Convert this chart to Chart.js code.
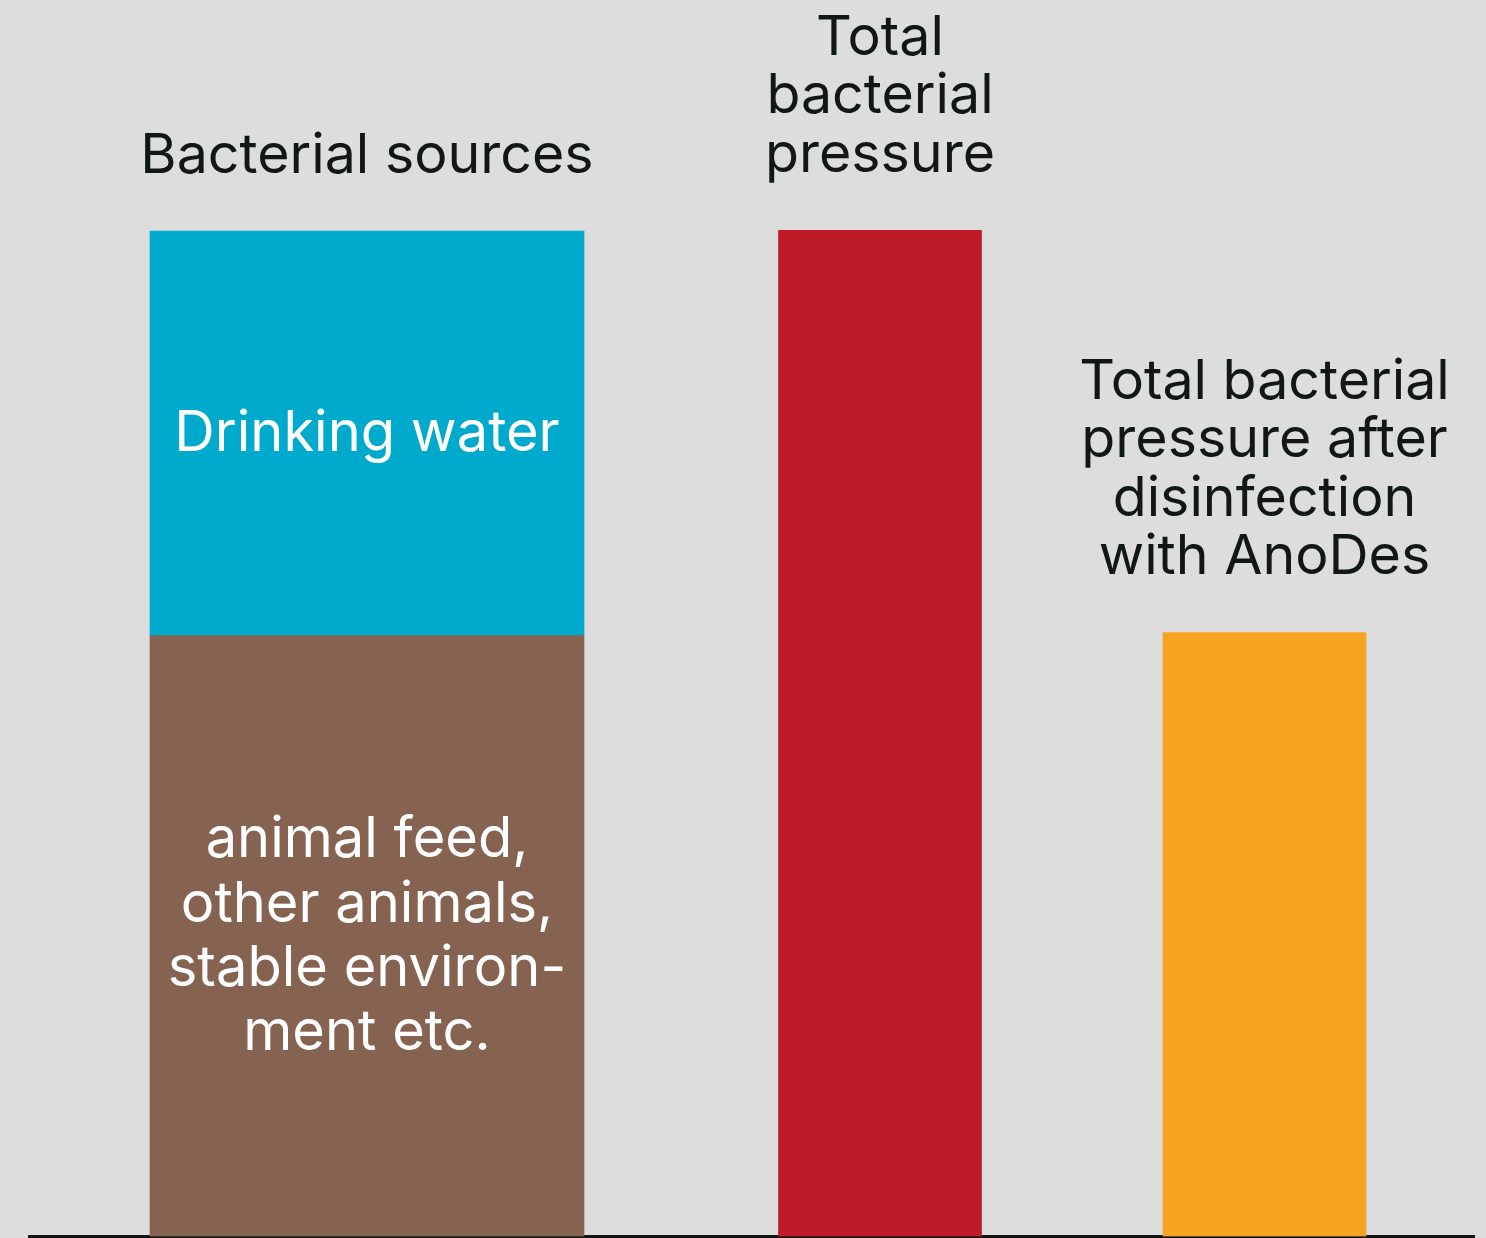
<!DOCTYPE html>
<html><head><meta charset="utf-8">
<script src="https://cdn.jsdelivr.net/npm/chart.js@4/dist/chart.umd.min.js"></script>
<style>
html,body{margin:0;padding:0;background:#dcdddc;}
#wrap{position:relative;width:1486px;height:1238px;overflow:hidden;background:#dcdddc;font-family:Inter,"Noto Sans",sans-serif;}
.panel{position:absolute;top:0;height:1238px;}
.panel canvas{display:block;}
.lbl{position:absolute;white-space:pre;text-align:center;transform:translateX(-50%);}
</style></head><body>
<div id="wrap">
  <div class="panel" style="left:28px;width:678px"><canvas width="678" height="1238"></canvas></div>
  <div class="panel" style="left:706px;width:348px"><canvas width="348" height="1238"></canvas></div>
  <div class="panel" style="left:1054px;width:421px"><canvas width="421" height="1238"></canvas></div>
</div>
<script>
// ---- data ----
const categories = ['Bacterial sources', 'Total bacterial pressure', 'Total bacterial pressure after disinfection with AnoDes'];
const categoryLabelLines = [
  ['Bacterial sources'],
  ['Total', 'bacterial', 'pressure'],
  ['Total bacterial', 'pressure after', 'disinfection', 'with AnoDes']
];
const seriesNames = ['animal feed, other animals, stable environment etc.', 'Drinking water', 'Total bacterial pressure', 'Total bacterial pressure after disinfection with AnoDes'];
const otherSourcesValues      = [59.7, null, null];
const drinkingWaterValues     = [40.2, null, null];
const totalPressureValues     = [null, 100, null];
const afterDisinfectionValues = [null, null, 60];
const segmentLabelLines = [
  ['animal feed,', 'other animals,', 'stable environ-', 'ment etc.'],
  ['Drinking water'],
  [],
  []
];

// ---- styles ----
const seriesValues = [otherSourcesValues, drinkingWaterValues, totalPressureValues, afterDisinfectionValues];
const seriesColors = ['#856350', '#00aacc', '#be1a28', '#f7a521'];
const segmentFont = [{size: 56, lh: 64.3}, {size: 56, lh: 64}, null, null];
const panelBarThickness = [434, 203, 203];
const TEXT = '#111715';
const CAT_FONT = 55.5, CAT_LH = 58.5, CAT_GAP = 58;
const ASC = 0.96875, DESC = 0.2421875;

const wrap = document.getElementById('wrap');
const panels = Array.from(document.querySelectorAll('.panel'));

function addLabel(lines, color, size, lh, cx, top) {
  const d = document.createElement('div');
  d.className = 'lbl';
  d.style.color = color;
  d.style.fontSize = size + 'px';
  d.style.lineHeight = lh + 'px';
  d.style.left = cx + 'px';
  d.style.top = top + 'px';
  d.textContent = lines.join('\n');
  wrap.appendChild(d);
}

function makeLabelPlugin(ci) {
  let done = false;
  return {
    id: 'labels' + ci,
    afterRender(chart) {
      if (done) return;
      done = true;
      const off = chart.canvas.parentNode.offsetLeft;
      let barTop = Infinity, cx = 0;
      chart.data.datasets.forEach((ds, di) => {
        const el = chart.getDatasetMeta(di).data[0];
        if (!el) return;
        barTop = Math.min(barTop, el.y);
        cx = el.x + off;
        const si = ds.seriesIndex;
        const lines = segmentLabelLines[si];
        if (lines && lines.length && segmentFont[si]) {
          const f = segmentFont[si];
          const mid = (el.y + el.base) / 2 - 2;
          addLabel(lines, '#ffffff', f.size, f.lh, cx, mid - lines.length * f.lh / 2);
        }
      });
      const lines = categoryLabelLines[ci];
      const n = lines.length;
      const lastBaseFromTop = (n - 1) * CAT_LH + (CAT_LH - (ASC + DESC) * CAT_FONT) / 2 + ASC * CAT_FONT;
      addLabel(lines, TEXT, CAT_FONT, CAT_LH, cx, barTop - CAT_GAP - lastBaseFromTop);
    }
  };
}

panels.forEach((p, ci) => {
  const datasets = [];
  seriesValues.forEach((vals, si) => {
    if (vals[ci] === null) return;
    datasets.push({
      label: seriesNames[si],
      data: [vals[ci]],
      backgroundColor: seriesColors[si],
      borderWidth: 0,
      barThickness: panelBarThickness[ci],
      seriesIndex: si
    });
  });
  new Chart(p.querySelector('canvas'), {
    type: 'bar',
    data: { labels: [categories[ci]], datasets },
    options: {
      responsive: false,
      animation: false,
      devicePixelRatio: 1,
      layout: { padding: { top: 230, bottom: 1.5, left: 0, right: 0 } },
      plugins: { legend: { display: false }, tooltip: { enabled: false } },
      scales: {
        x: {
          stacked: true,
          grid: { display: false, drawTicks: false },
          ticks: { display: false },
          border: { display: true, color: '#111614', width: 3 }
        },
        y: { stacked: true, display: false, min: 0, max: 100 }
      }
    },
    plugins: [makeLabelPlugin(ci)]
  });
});
</script>
</body></html>
